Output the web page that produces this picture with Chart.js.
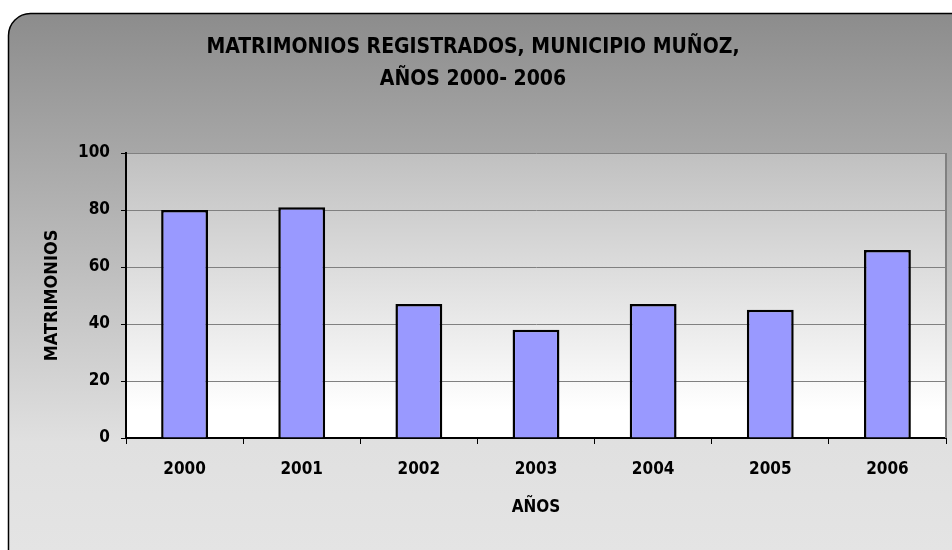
<!DOCTYPE html>
<html>
<head>
<meta charset="utf-8">
<script src="https://cdn.jsdelivr.net/npm/chart.js@4/dist/chart.umd.min.js"></script>
<style>
  html, body { margin: 0; padding: 0; background: #ffffff; }
  #wrap { width: 952px; height: 550px; }
</style>
</head>
<body>
<div id="wrap"><canvas id="ChartCanvas" width="952" height="550"></canvas></div>
<script>
const years = ['2000', '2001', '2002', '2003', '2004', '2005', '2006'];
const matrimonios = [80, 81, 47, 38, 47, 45, 66];
const titleLines = ['MATRIMONIOS REGISTRADOS, MUNICIPIO MUÑOZ,', 'AÑOS 2000- 2006'];
const yTitle = 'MATRIMONIOS';
const xTitle = 'AÑOS';

const FONT = "'Liberation Sans Narrow', 'DejaVu Sans Condensed', 'Arial Narrow', sans-serif";

// fondo del gráfico y del área de trazado
const fondo = {
    id: 'fondo',
    beforeDraw(chart) {
        const ctx = chart.ctx;
        const a = chart.chartArea;
        ctx.save();
        // marco redondeado
        let g = ctx.createLinearGradient(0, 13, 0, 550);
        g.addColorStop(0, '#8c8c8c');
        g.addColorStop(0.8, '#e0e0e0');
        g.addColorStop(1, '#e4e4e4');
        ctx.fillStyle = g;
        ctx.beginPath();
        ctx.roundRect(8.5, 13.5, 980, 600, 22);
        ctx.fill();
        ctx.lineWidth = 1.5;
        ctx.strokeStyle = '#000000';
        ctx.stroke();
        // área de trazado
        g = ctx.createLinearGradient(0, a.top, 0, a.bottom);
        g.addColorStop(0, '#c0c0c0');
        g.addColorStop(0.9, '#ffffff');
        ctx.fillStyle = g;
        ctx.fillRect(a.left, a.top, a.right - a.left, a.bottom - a.top);
        ctx.restore();
    },
    afterDatasetsDraw(chart) {
        const ctx = chart.ctx;
        const a = chart.chartArea;
        ctx.save();
        ctx.strokeStyle = '#808080';
        ctx.lineWidth = 2;
        ctx.beginPath();
        ctx.moveTo(a.right, a.top);
        ctx.lineTo(a.right, a.bottom);
        ctx.stroke();
        ctx.restore();
    }
};

let ctx = document.getElementById('ChartCanvas').getContext('2d');

window.barChart = new Chart(ctx, {
    type: 'bar',
    data: {
        labels: years,
        datasets: [{
            data: matrimonios,
            backgroundColor: '#9999ff',
            borderColor: '#000000',
            borderWidth: 2.5,
            barPercentage: 0.4,
            categoryPercentage: 1.0
        }]
    },
    options: {
        responsive: false,
        animation: false,
        layout: { padding: { left: 0, right: 6, top: 0, bottom: 0 } },
        plugins: {
            legend: { display: false },
            tooltip: { enabled: false },
            title: {
                display: true,
                text: titleLines,
                color: '#000000',
                font: { family: FONT, size: 21, weight: 'bold', lineHeight: 1.5 },
                padding: { top: 32, bottom: 58 }
            }
        },
        scales: {
            x: {
                afterFit(scale) { scale.height = 112; },
                grid: { drawOnChartArea: false, tickLength: 6, tickColor: '#000000', tickWidth: 1 },
                border: { color: '#000000', width: 2 },
                ticks: { color: '#000000', padding: 15, font: { family: FONT, size: 17, weight: 'bold' } },
                title: {
                    display: true, text: xTitle, color: '#000000',
                    font: { family: FONT, size: 17, weight: 'bold', lineHeight: 1.2 },
                    padding: { top: 0, bottom: 32 }
                }
            },
            y: {
                min: 0, max: 100,
                afterFit(scale) { scale.width = 126; },
                grid: { color: '#808080', lineWidth: 1, tickLength: 5, tickColor: '#000000' },
                border: { color: '#000000', width: 2 },
                ticks: { stepSize: 20, color: '#000000', padding: 11, font: { family: FONT, size: 17, weight: 'bold' } },
                title: {
                    display: true, text: yTitle, color: '#000000',
                    font: { family: FONT, size: 18, weight: 'bold', lineHeight: 1.2 },
                    padding: { top: 42, bottom: 0 }
                }
            }
        }
    },
    plugins: [fondo]
});
</script>
</body>
</html>
